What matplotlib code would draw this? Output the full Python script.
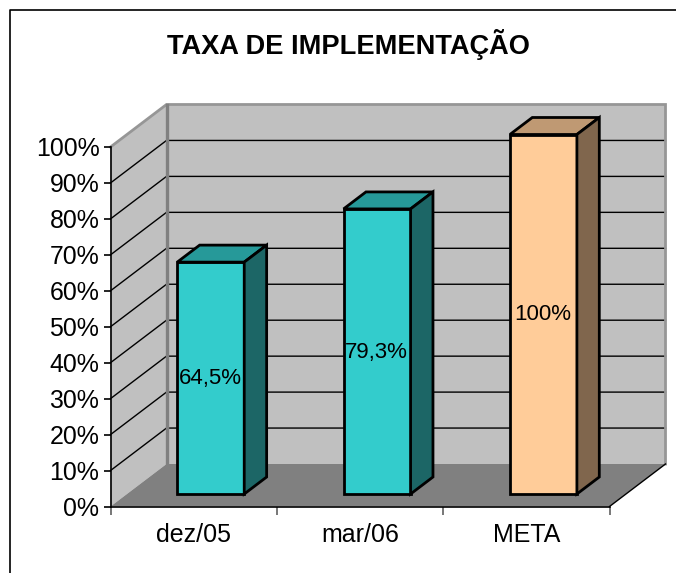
import matplotlib
matplotlib.use("Agg")
import matplotlib.pyplot as plt
from matplotlib.lines import Line2D
from matplotlib.patches import Polygon

plt.rcParams["font.family"] = ["Liberation Sans", "DejaVu Sans"]

categorias = ["dez/05", "mar/06", "META"]
valores = [64.5, 79.3, 100]
rotulos = ["64,5%", "79,3%", "100%"]
cores_frente = ["#33CCCC", "#33CCCC", "#FFCC99"]
cores_topo = ["#269999", "#269999", "#BF9973"]
cores_lado = ["#1C6666", "#1C6666", "#80664D"]
ticks_y = list(range(0, 101, 10))

W, H = 676, 573
fig = plt.figure(figsize=(W / 100, H / 100), dpi=100)
fig.patch.set_facecolor("white")

# moldura: so esquerda e topo aparecem no recorte
fig.add_artist(Line2D([9.5 / W, 9.5 / W, 1], [0, 1 - 10 / H, 1 - 10 / H], color="black", lw=1.2, zorder=-1))

# eixos no plano da frente: x = categorias, y = percentual
x0, x1, y0, y1 = 110.5, 609.5, 506.5, 147
ax = fig.add_axes([x0 / W, 1 - y0 / H, (x1 - x0) / W, (y0 - y1) / H])
ax.set_xlim(0, len(categorias))
ax.set_ylim(0, 100)
ax.patch.set_alpha(0)
for s in ["top", "right"]:
    ax.spines[s].set_visible(False)
ax.spines["left"].set_linewidth(1.2)
ax.spines["bottom"].set_linewidth(1.2)

# profundidade total em unidades dos eixos
px_x = len(categorias) / (x1 - x0)
px_y = 100 / (y0 - y1)
prof_x = 56 * px_x
prof_y = 42.5 * px_y


def p(x, y, z):
    return (x + z * prof_x, y + z * prof_y)


def face(pontos, **kw):
    ax.add_patch(Polygon(pontos, closed=True, clip_on=False, **kw))


n = len(categorias)
# paredes e chao
face([p(0, 0, 0), p(0, 100, 0), p(0, 100, 1), p(0, 0, 1)], facecolor="#C0C0C0", edgecolor="none", zorder=1)
face([p(0, 0, 1), p(n, 0, 1), p(n, 100, 1), p(0, 100, 1)], facecolor="#C0C0C0", edgecolor="none", zorder=1)
face([p(0, 0, 0), p(n, 0, 0), p(n, 0, 1), p(0, 0, 1)], facecolor="#808080", edgecolor="none", zorder=1.5)

# grades
for t in ticks_y[1:-1]:
    ax.plot(*zip(p(0, t, 0), p(0, t, 1), p(n, t, 1)), color="black", lw=1, clip_on=False, zorder=1.2)

# contorno cinza das paredes
ax.plot(*zip(p(0, 100, 0), p(0, 100, 1), p(n, 100, 1), p(n, 0, 1)), color="#969696", lw=2, clip_on=False, zorder=1.3,
        solid_joinstyle="miter")
ax.plot(*zip(p(0, 100, 1), p(0, 0, 1)), color="#808080", lw=2.4, clip_on=False, zorder=1.3)
ax.plot(*zip(p(n, 0, 0), p(n, 0, 1)), color="black", lw=1, clip_on=False, zorder=1.6)

# barras
larg = 67 * px_x
z_a, z_b = 12.5 / 42.5, 29.5 / 42.5
estilo = dict(edgecolor="black", linewidth=2, joinstyle="miter")
for i, v in enumerate(valores):
    c = i + 0.5 + 0.6 * px_x
    e, d = c - larg / 2, c + larg / 2
    face([p(e, 0, z_a), p(d, 0, z_a), p(d, v, z_a), p(e, v, z_a)], facecolor=cores_frente[i], zorder=3, **estilo)
    face([p(e, v, z_a), p(d, v, z_a), p(d, v, z_b), p(e, v, z_b)], facecolor=cores_topo[i], zorder=3, **estilo)
    face([p(d, 0, z_a), p(d, 0, z_b), p(d, v, z_b), p(d, v, z_a)], facecolor=cores_lado[i], zorder=3, **estilo)
    lx, ly = p(c - 0.6 * px_x, v / 2 - 0.2, z_a)
    ax.text(lx, ly, rotulos[i], ha="center", va="center", fontsize=16, color="black", zorder=4, clip_on=False)

ax.set_xticks(range(n + 1))
ax.set_xticklabels([])
ax.tick_params(axis="x", length=6, width=1.2, color="#606060")
ax.set_yticks(ticks_y)
ax.set_yticklabels([f"{t}%" for t in ticks_y], fontsize=17.9)
ax.tick_params(axis="y", length=5, width=1.2, pad=3)
for i, nome in enumerate(categorias):
    ax.text(i + 0.5, -8, nome, ha="center", va="center", fontsize=18, clip_on=False)

fig.text(348 / W, 1 - 44 / H, "TAXA DE IMPLEMENTAÇÃO", ha="center", va="center", fontsize=19.6, fontweight="bold")

fig.savefig("out.png", dpi=100)
